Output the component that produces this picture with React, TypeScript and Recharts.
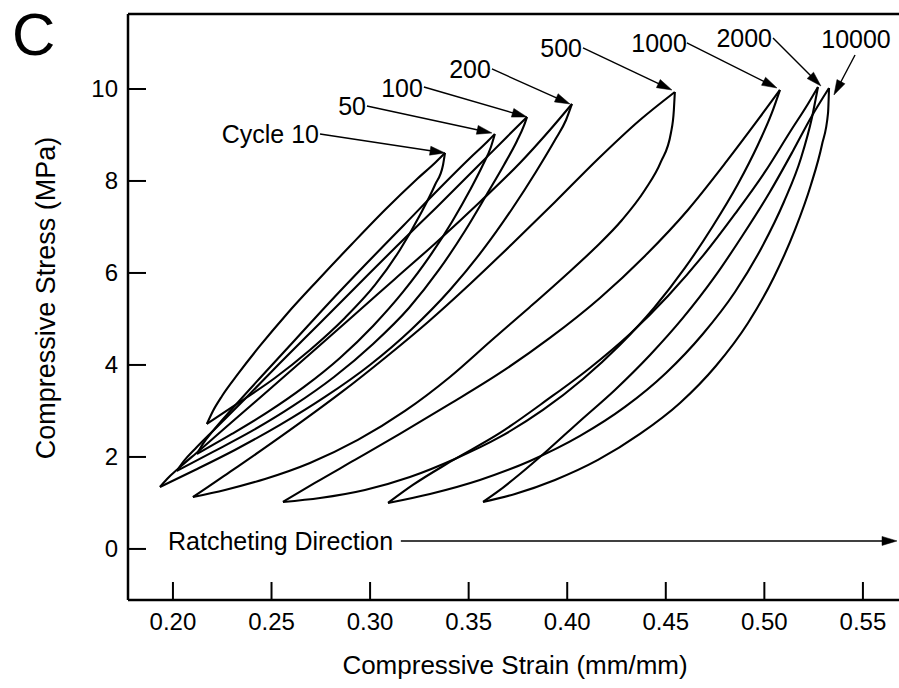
import React from 'react';
import { LineChart, Line, XAxis, YAxis, ReferenceLine, ReferenceDot } from 'recharts';

type P = [number, number];

// Axes
const xTicks = [0.2, 0.25, 0.3, 0.35, 0.4, 0.45, 0.5, 0.55];
const yTicks = [0, 2, 4, 6, 8, 10];
const xDomain: [number, number] = [0.1772, 0.5683];
const yDomain: [number, number] = [-1.11, 11.63];

// Hysteresis loops: upper (left) branch and lower (right) branch, strain (mm/mm) vs stress (MPa)
const c10Up: P[] = [[0.2172, 2.717], [0.2203, 3.0], [0.2249, 3.326], [0.233, 3.804], [0.2441, 4.413], [0.2578, 5.109], [0.2736, 5.848], [0.2908, 6.63], [0.308, 7.391], [0.3233, 8.022], [0.3334, 8.413], [0.338, 8.609]];
const c10Lo: P[] = [[0.2172, 2.717], [0.234, 3.196], [0.2517, 3.717], [0.2695, 4.326], [0.2872, 5.022], [0.3025, 5.739], [0.3151, 6.5], [0.3253, 7.261], [0.3329, 7.913], [0.337, 8.348], [0.338, 8.609]];

const c50Up: P[] = [[0.2122, 2.065], [0.2152, 2.283], [0.2203, 2.565], [0.2304, 3.065], [0.2451, 3.761], [0.2619, 4.543], [0.2796, 5.37], [0.2984, 6.217], [0.3172, 7.043], [0.3354, 7.848], [0.3507, 8.5], [0.3593, 8.848], [0.3633, 9.022]];
const c50Lo: P[] = [[0.2122, 2.065], [0.2299, 2.5], [0.2482, 2.978], [0.2665, 3.522], [0.2847, 4.152], [0.3015, 4.848], [0.3167, 5.587], [0.3304, 6.37], [0.3415, 7.109], [0.3507, 7.804], [0.3572, 8.348], [0.3613, 8.739], [0.3633, 9.022]];

const c100Up: P[] = [[0.202, 1.696], [0.2056, 1.913], [0.2112, 2.174], [0.2213, 2.609], [0.2365, 3.261], [0.2543, 4.043], [0.2736, 4.87], [0.2933, 5.717], [0.3136, 6.587], [0.3339, 7.435], [0.3542, 8.304], [0.3694, 8.957], [0.3796, 9.391]];
const c100Lo: P[] = [[0.202, 1.696], [0.2203, 2.109], [0.2401, 2.565], [0.2609, 3.109], [0.2817, 3.739], [0.3015, 4.457], [0.3197, 5.239], [0.3349, 6.065], [0.3481, 6.913], [0.3593, 7.717], [0.3679, 8.348], [0.3745, 8.87], [0.378, 9.196], [0.3796, 9.391]];

const c200Up: P[] = [[0.1934, 1.348], [0.197, 1.522], [0.2025, 1.739], [0.2137, 2.152], [0.2299, 2.761], [0.2492, 3.478], [0.2695, 4.239], [0.2908, 5.043], [0.3126, 5.87], [0.3344, 6.696], [0.3557, 7.543], [0.376, 8.391], [0.3912, 9.109], [0.4024, 9.674]];
const c200Lo: P[] = [[0.1934, 1.348], [0.2112, 1.717], [0.2314, 2.152], [0.2543, 2.696], [0.2771, 3.304], [0.2999, 4.0], [0.3212, 4.783], [0.3405, 5.63], [0.3572, 6.5], [0.372, 7.391], [0.3841, 8.196], [0.3938, 8.891], [0.3994, 9.326], [0.4024, 9.674]];

const c500Up: P[] = [[0.2101, 1.13], [0.2178, 1.348], [0.2289, 1.674], [0.2451, 2.152], [0.2644, 2.739], [0.2857, 3.413], [0.3075, 4.152], [0.3294, 4.935], [0.3507, 5.761], [0.372, 6.63], [0.3938, 7.543], [0.4156, 8.478], [0.4369, 9.326], [0.4546, 9.935]];
const c500Lo: P[] = [[0.2101, 1.13], [0.2264, 1.283], [0.2467, 1.522], [0.2695, 1.87], [0.2938, 2.37], [0.3177, 3.0], [0.3405, 3.739], [0.3618, 4.543], [0.3811, 5.261], [0.3988, 5.935], [0.4141, 6.543], [0.4278, 7.152], [0.4394, 7.804], [0.4475, 8.413], [0.4526, 9.043], [0.4541, 9.543], [0.4546, 9.935]];

const c1000Up: P[] = [[0.2558, 1.022], [0.272, 1.435], [0.2923, 1.935], [0.3151, 2.5], [0.3405, 3.152], [0.3659, 3.826], [0.3912, 4.587], [0.4166, 5.457], [0.4394, 6.37], [0.4612, 7.37], [0.481, 8.435], [0.4967, 9.326], [0.5079, 9.978]];
const c1000Lo: P[] = [[0.2558, 1.022], [0.2746, 1.109], [0.2974, 1.283], [0.3202, 1.565], [0.343, 1.957], [0.3659, 2.435], [0.3877, 3.022], [0.408, 3.696], [0.4267, 4.435], [0.444, 5.239], [0.4597, 6.109], [0.4739, 7.022], [0.4866, 7.935], [0.4967, 8.783], [0.5038, 9.478], [0.5079, 9.978]];

const c2000Up: P[] = [[0.3091, 1.0], [0.3217, 1.391], [0.3405, 1.891], [0.3659, 2.522], [0.3897, 3.239], [0.4115, 3.935], [0.4318, 4.674], [0.4511, 5.5], [0.4688, 6.37], [0.4851, 7.283], [0.5003, 8.196], [0.513, 9.065], [0.5221, 9.674], [0.5272, 10.043]];
const c2000Lo: P[] = [[0.3091, 1.0], [0.3304, 1.196], [0.3557, 1.5], [0.3811, 1.913], [0.4065, 2.457], [0.4293, 3.087], [0.4501, 3.826], [0.4688, 4.674], [0.4851, 5.587], [0.4988, 6.565], [0.5099, 7.543], [0.5186, 8.5], [0.5241, 9.37], [0.5272, 10.043]];

const c10000Up: P[] = [[0.3573, 1.022], [0.3659, 1.283], [0.376, 1.63], [0.3902, 2.152], [0.4065, 2.783], [0.4242, 3.457], [0.442, 4.217], [0.4587, 5.022], [0.4744, 5.891], [0.4891, 6.826], [0.5028, 7.761], [0.5145, 8.652], [0.5241, 9.413], [0.5328, 10.022]];
const c10000Lo: P[] = [[0.3573, 1.022], [0.3735, 1.196], [0.3938, 1.5], [0.4156, 1.935], [0.4369, 2.5], [0.4572, 3.174], [0.4754, 3.978], [0.4917, 4.913], [0.5049, 5.913], [0.5155, 6.935], [0.5236, 7.913], [0.5292, 8.783], [0.5323, 9.478], [0.5328, 10.022]];

// Cycle annotations
const cycleLabels = ['Cycle 10', '50', '100', '200', '500', '1000', '2000', '10000'];
const labelPos: P[] = [[0.2741, 9.022], [0.2979, 9.63], [0.3268, 10.022], [0.3613, 10.435], [0.4075, 10.891], [0.4607, 11.0], [0.5039, 11.109], [0.5465, 11.087]];
const arrowFrom: P[] = [[0.2746, 9.022], [0.2984, 9.63], [0.3273, 10.043], [0.3618, 10.435], [0.408, 10.891], [0.4607, 11.0], [0.5044, 11.109], [0.546, 10.739]];
const arrowTo: P[] = [[0.338, 8.609], [0.3618, 9.043], [0.3796, 9.391], [0.4014, 9.674], [0.4531, 9.978], [0.5064, 10.022], [0.5287, 10.065], [0.5353, 9.87]];

const panelLetter = 'C';
const xTitle = 'Compressive Strain (mm/mm)';
const yTitle = 'Compressive Stress (MPa)';
const ratchetText = 'Ratcheting Direction';
const ratchetTextPos: P = [0.1975, 0.174];
const ratchetArrow: [P, P] = [[0.3156, 0.174], [0.5673, 0.174]];

const branches: P[][] = [c10Up, c10Lo, c50Up, c50Lo, c100Up, c100Lo, c200Up, c200Lo, c500Up, c500Lo, c1000Up, c1000Lo, c2000Up, c2000Lo, c10000Up, c10000Lo];

const FONT = '"Liberation Sans", Arial, Helvetica, sans-serif';

const toRows = (a: P[]) => a.map(([x, y]) => ({ x, y }));

const ArrowShape = (props: any) => {
  const { x1, y1, x2, y2 } = props;
  const dx = x2 - x1;
  const dy = y2 - y1;
  const len = Math.sqrt(dx * dx + dy * dy) || 1;
  const ux = dx / len;
  const uy = dy / len;
  const hl = 15;
  const hw = 4.5;
  const bx = x2 - ux * hl;
  const by = y2 - uy * hl;
  const pts = `${x2},${y2} ${bx - uy * hw},${by + ux * hw} ${bx + uy * hw},${by - ux * hw}`;
  return (
    <g>
      <line x1={x1} y1={y1} x2={bx + ux * 2} y2={by + uy * 2} stroke="#000" strokeWidth={1.4} />
      <polygon points={pts} fill="#000" stroke="#000" strokeWidth={0.5} />
    </g>
  );
};

const makeText = (text: string, anchor: string, size: number) => (p: any) => (
  <text x={p.cx} y={p.cy} textAnchor={anchor} dominantBaseline="central" fontFamily={FONT} fontSize={size} fill="#000">
    {text}
  </text>
);

export default function App() {
  return (
    <div style={{ position: 'absolute', left: 0, top: 0, width: 899, height: 688, background: '#fff' }}>
      <LineChart width={899} height={688} margin={{ top: 14, right: 0, bottom: 0, left: 0 }}>
        <XAxis
          type="number"
          dataKey="x"
          domain={xDomain}
          ticks={xTicks}
          allowDataOverflow
          height={88}
          tickSize={-18}
          tickMargin={31}
          tickFormatter={(v: number) => v.toFixed(2)}
          axisLine={{ stroke: '#000', strokeWidth: 2.5 }}
          tickLine={{ stroke: '#000', strokeWidth: 2 }}
          tick={{ fill: '#000', fontSize: 24, fontFamily: FONT }}
          label={{
            content: () => (
              <text x={515} y={674} textAnchor="middle" fontFamily={FONT} fontSize={26} fill="#000">
                {xTitle}
              </text>
            ),
          }}
        />
        <YAxis
          type="number"
          dataKey="y"
          domain={yDomain}
          ticks={yTicks}
          allowDataOverflow
          width={128}
          tickSize={-18}
          tickMargin={28}
          axisLine={{ stroke: '#000', strokeWidth: 2.5 }}
          tickLine={{ stroke: '#000', strokeWidth: 2 }}
          tick={{ fill: '#000', fontSize: 24, fontFamily: FONT }}
          label={{
            content: () => (
              <g>
                <text x={12} y={55} fontFamily={FONT} fontSize={60} fill="#000">
                  {panelLetter}
                </text>
                <text x={46} y={298} transform="rotate(-90 46 298)" textAnchor="middle" dominantBaseline="central" fontFamily={FONT} fontSize={27} fill="#000">
                  {yTitle}
                </text>
              </g>
            ),
          }}
        />
        <ReferenceLine y={yDomain[1]} stroke="#000" strokeWidth={2.5} />
        {branches.map((b, i) => (
          <Line
            key={i}
            data={toRows(b)}
            dataKey="y"
            type="monotone"
            stroke="#000"
            strokeWidth={2.1}
            dot={false}
            activeDot={false}
            isAnimationActive={false}
          />
        ))}
        {cycleLabels.map((t, i) => (
          <ReferenceLine
            key={'a' + i}
            segment={[{ x: arrowFrom[i][0], y: arrowFrom[i][1] }, { x: arrowTo[i][0], y: arrowTo[i][1] }]}
            shape={ArrowShape}
            ifOverflow="visible"
          />
        ))}
        {cycleLabels.map((t, i) => (
          <ReferenceDot
            key={'t' + i}
            x={labelPos[i][0]}
            y={labelPos[i][1]}
            ifOverflow="visible"
            shape={makeText(t, i === cycleLabels.length - 1 ? 'middle' : 'end', 25)}
          />
        ))}
        <ReferenceDot x={ratchetTextPos[0]} y={ratchetTextPos[1]} ifOverflow="visible" shape={makeText(ratchetText, 'start', 25)} />
        <ReferenceLine
          segment={[{ x: ratchetArrow[0][0], y: ratchetArrow[0][1] }, { x: ratchetArrow[1][0], y: ratchetArrow[1][1] }]}
          shape={ArrowShape}
          ifOverflow="visible"
        />
      </LineChart>
    </div>
  );
}
